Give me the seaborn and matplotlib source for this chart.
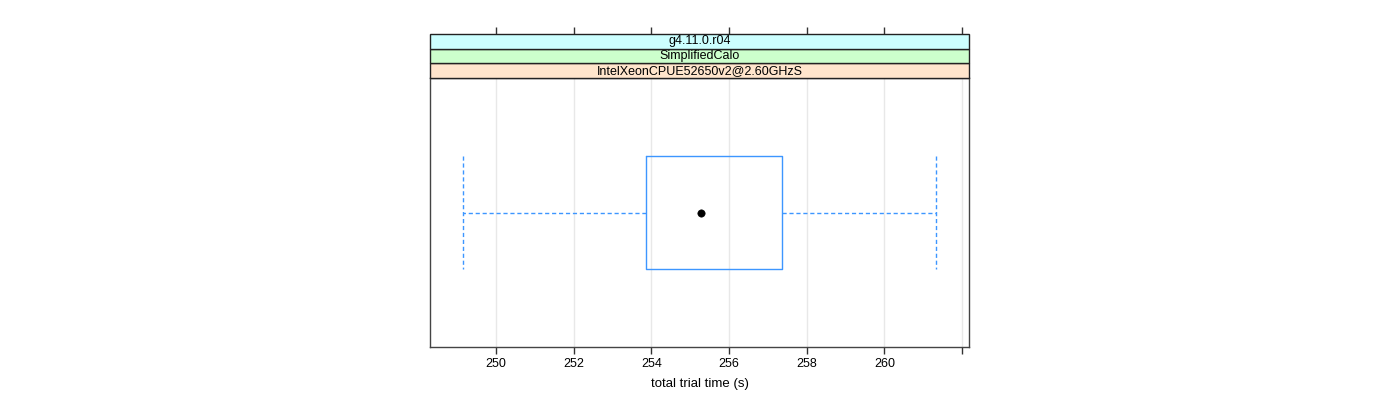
import numpy as np
import pandas as pd
import matplotlib
matplotlib.use("Agg")
import matplotlib.pyplot as plt
from matplotlib.patches import Rectangle
import seaborn as sns

# ---- data ----
trial_times = [249.16, 253.85, 255.27, 257.37, 261.34]
strip_labels = ["IntelXeonCPUE52650v2@2.60GHzS", "SimplifiedCalo", "g4.11.0.r04"]
strip_colors = ["#ffe5cc", "#ccffcc", "#ccffff"]
x_ticks = [250, 252, 254, 256, 258, 260, 262]
x_tick_labels = ["250", "252", "254", "256", "258", "260", ""]
x_label = "total trial time (s)"

sns.set_style("white")
plt.rcParams["font.family"] = ["Liberation Sans", "DejaVu Sans"]
plt.rcParams["text.color"] = "black"
plt.rcParams["axes.labelcolor"] = "black"
plt.rcParams["xtick.color"] = "black"

df = pd.DataFrame({"time": trial_times, "group": ["g"] * len(trial_times)})

W, H = 1400, 400
fig = plt.figure(figsize=(W / 100, H / 100), dpi=100)
pl, pr, pt, pb = 430, 969, 78, 347
ax = fig.add_axes([pl / W, 1 - pb / H, (pr - pl) / W, (pb - pt) / H])

box_col = "#3d96ff"
sns.boxplot(data=df, x="time", y="group", orient="y", width=0.5, whis=1.5,
            fill=False, color=box_col, linewidth=1.0,
            medianprops=dict(visible=False),
            whiskerprops=dict(color=box_col, linestyle=(0, (3, 2)), linewidth=1.0),
            capprops=dict(color=box_col, linestyle=(0, (3, 2)), linewidth=1.0),
            showfliers=False, ax=ax)

# lattice style whisker ends span the full box height
for ln in ax.lines:
    yd = np.asarray(ln.get_ydata(), dtype=float)
    xd = np.asarray(ln.get_xdata(), dtype=float)
    if len(xd) == 2 and xd[0] == xd[1] and yd[0] != yd[1]:
        ln.set_ydata([-0.25, 0.25])

med = float(np.median(trial_times))
sns.scatterplot(x=[med], y=[0], color="black", s=28, edgecolor="black", ax=ax, zorder=5)

ax.set_xlim(248.30, 262.18)
ax.set_ylim(0.6, -0.6)
ax.set_xticks(x_ticks)
ax.set_xticklabels(x_tick_labels, fontsize=9, color="black")
ax.set_yticks([])
ax.set_ylabel("")
ax.set_xlabel(x_label, fontsize=9.5, labelpad=6, color="black")
ax.tick_params(axis="x", direction="out", length=5, width=1, color="#333333",
               bottom=True, pad=3)
ax.grid(axis="x", color="#e8e8e8", linewidth=1)
ax.set_axisbelow(True)
for s in ax.spines.values():
    s.set_color("#444444")
    s.set_linewidth(1)
    s.set_visible(True)

# strips
ph = pb - pt
sh = 14.67 / ph
for i, (lab, col) in enumerate(zip(strip_labels, strip_colors)):
    y0 = 1 + i * sh
    ax.add_patch(Rectangle((0, y0), 1, sh, transform=ax.transAxes, facecolor=col,
                           edgecolor="#222222", linewidth=1, clip_on=False, zorder=3))
    ax.text(0.5, y0 + sh / 2, lab, transform=ax.transAxes, ha="center", va="center",
            fontsize=9, color="black", zorder=4)

sec = ax.secondary_xaxis(1 + 3 * sh)
sec.set_xticks(x_ticks)
sec.set_xticklabels([])
sec.tick_params(axis="x", direction="out", length=5, width=1, color="#333333")
sec.spines["top"].set_visible(False)

fig.savefig("out.png", dpi=100)
